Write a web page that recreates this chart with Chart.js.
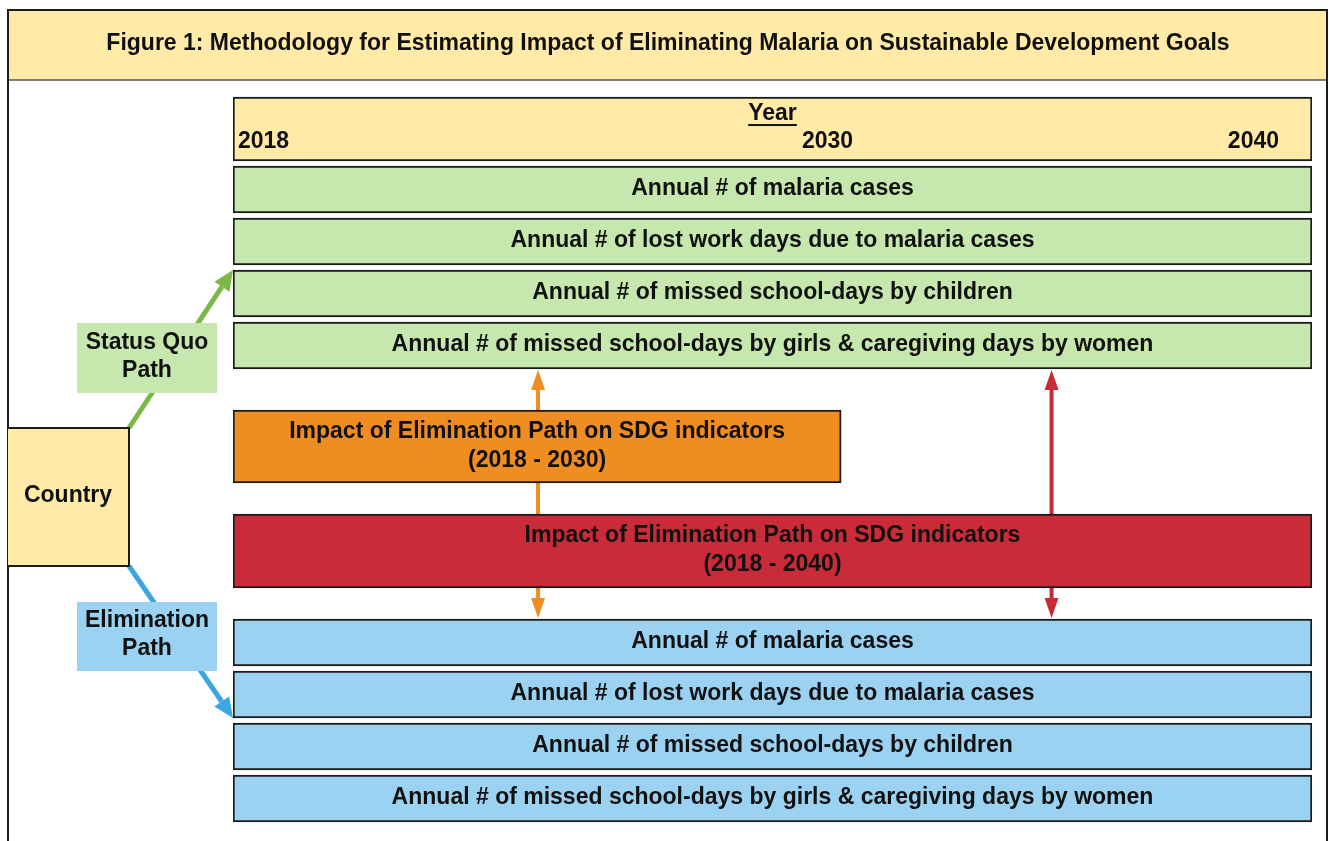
<!DOCTYPE html>
<html><head><meta charset="utf-8">
<script src="https://cdn.jsdelivr.net/npm/chart.js@4.4.0/dist/chart.umd.min.js"></script>
<style>html,body{margin:0;padding:0;background:#fff;overflow:hidden}canvas{display:block}</style>
</head><body>
<canvas id="c" width="1329" height="841"></canvas>
<script>
// ---------- DATA ----------
const TITLE = "Figure 1: Methodology for Estimating Impact of Eliminating Malaria on Sustainable Development Goals";
const AXIS_TITLE = "Year";
const YEAR_TICKS = [2018, 2030, 2040];
const ROW_SPAN = [2018, 2040];
const STATUS_QUO_ROWS = [
  "Annual # of malaria cases",
  "Annual # of lost work days due to malaria cases",
  "Annual # of missed school-days by children",
  "Annual # of missed school-days by girls & caregiving days by women"
];
const ELIMINATION_ROWS = [
  "Annual # of malaria cases",
  "Annual # of lost work days due to malaria cases",
  "Annual # of missed school-days by children",
  "Annual # of missed school-days by girls & caregiving days by women"
];
const IMPACT_LABELS = [
  ["Impact of Elimination Path on SDG indicators", "(2018 - 2030)"],
  ["Impact of Elimination Path on SDG indicators", "(2018 - 2040)"]
];
const IMPACT_SPANS = [[2018, 2030.4], [2018, 2040]];
const ORIGIN_LABEL = "Country";
const PATH_LABELS = [["Status Quo", "Path"], ["Elimination", "Path"]];

// ---------- LAYOUT / STYLE ----------
const PX_PER_ROW = 52;
const L = {
  yMin: -189.5 / PX_PER_ROW,
  yMax: (841 - 189.5) / PX_PER_ROW,
  header: -1.163, greenStart: 0, orange: 4.942, red: 6.952, blueStart: 8.712,
  thickHeader: 64, thickRow: 47, thickOrange: 73, thickRed: 74,
  arrowYears: [2024.22, 2034.69]
};
const C = {
  yellow: '#FFEAA7', green: '#C6E7AD', blue: '#9BD2F2', orange: '#EF8C22', red: '#C92B39',
  border: '#1b1b1b', text: '#111111', greenArrow: '#7BB84A', blueArrow: '#3BA6DF',
  orangeArrow: '#EF8C22', redArrow: '#C92B39'
};
const FONT = 'bold 23px "Liberation Sans", Arial, sans-serif';

function arrowLine(ctx, x1, y1, x2, y2, color, lw, headLen, headHalf) {
  const a = Math.atan2(y2 - y1, x2 - x1);
  const bx = x2 - headLen * Math.cos(a), by = y2 - headLen * Math.sin(a);
  ctx.save();
  ctx.strokeStyle = color; ctx.fillStyle = color; ctx.lineWidth = lw; ctx.lineCap = 'butt';
  ctx.beginPath(); ctx.moveTo(x1, y1); ctx.lineTo(bx, by); ctx.stroke();
  ctx.beginPath();
  ctx.moveTo(x2, y2);
  ctx.lineTo(bx + headHalf * Math.sin(a), by - headHalf * Math.cos(a));
  ctx.lineTo(bx - headHalf * Math.sin(a), by + headHalf * Math.cos(a));
  ctx.closePath(); ctx.fill();
  ctx.restore();
}
function textLines(ctx, lines, cx, cy, gap) {
  const n = lines.length;
  lines.forEach((t, i) => ctx.fillText(t, cx, cy + (i - (n - 1) / 2) * gap));
}

const diagramPlugin = {
  id: 'diagram',
  beforeDatasetsDraw(chart) {
    const ctx = chart.ctx;
    const xs = chart.scales.x, ys = chart.scales.y;
    ctx.save();
    // title bar
    ctx.fillStyle = C.yellow;
    ctx.fillRect(8, 10, 1319, 70);
    ctx.strokeStyle = '#555'; ctx.lineWidth = 1.5;
    ctx.beginPath(); ctx.moveTo(8, 80); ctx.lineTo(1327, 80); ctx.stroke();
    // outer frame
    ctx.strokeStyle = C.border; ctx.lineWidth = 2;
    ctx.beginPath(); ctx.moveTo(8, 845); ctx.lineTo(8, 10); ctx.lineTo(1327, 10); ctx.lineTo(1327, 845); ctx.stroke();
    // title text
    ctx.fillStyle = C.text; ctx.font = FONT; ctx.textAlign = 'center'; ctx.textBaseline = 'middle';
    ctx.fillText(TITLE, 668, 44);

    // geometry of rows
    const rowTop0 = ys.getPixelForValue(L.greenStart + 3) + L.thickRow / 2;      // bottom of last green row
    const blueTop = ys.getPixelForValue(L.blueStart) - L.thickRow / 2;          // top of first blue row
    const gTarget = ys.getPixelForValue(L.greenStart + 2) - L.thickRow / 2;     // top of 3rd green row
    const bTarget = ys.getPixelForValue(L.blueStart + 1) + L.thickRow / 2;      // bottom of 2nd blue row
    const left = xs.getPixelForValue(ROW_SPAN[0]);

    // country box
    const cTop = 428, cBot = 566, cRight = 129;
    arrowLine(ctx, cRight, cTop, left, gTarget, C.greenArrow, 5, 20, 9);
    arrowLine(ctx, cRight, cBot, left, bTarget, C.blueArrow, 5, 20, 9);
    ctx.fillStyle = C.yellow; ctx.fillRect(8, cTop, cRight - 8, cBot - cTop);
    ctx.strokeStyle = C.border; ctx.lineWidth = 2;
    ctx.beginPath(); ctx.moveTo(8, cTop); ctx.lineTo(cRight, cTop); ctx.lineTo(cRight, cBot); ctx.lineTo(8, cBot); ctx.stroke();
    ctx.fillStyle = C.text; ctx.font = FONT;
    ctx.fillText(ORIGIN_LABEL, 68, 496);

    // path boxes
    ctx.fillStyle = C.green; ctx.fillRect(77, 323, 140, 70);
    ctx.fillStyle = C.blue; ctx.fillRect(77, 602, 140, 69);
    ctx.fillStyle = C.text;
    textLines(ctx, PATH_LABELS[0], 147, 357, 28);
    textLines(ctx, PATH_LABELS[1], 147, 635, 28);

    // vertical double arrows
    const cols = [C.orangeArrow, C.redArrow];
    L.arrowYears.forEach((yr, i) => {
      const x = xs.getPixelForValue(yr);
      const mid = (rowTop0 + blueTop) / 2;
      arrowLine(ctx, x, mid, x, rowTop0 + 1, cols[i], 4, 20, 7);
      arrowLine(ctx, x, mid, x, blueTop - 1, cols[i], 4, 20, 7);
    });
    ctx.restore();
  },
  afterDatasetsDraw(chart) {
    const ctx = chart.ctx;
    const xs = chart.scales.x;
    ctx.save();
    ctx.fillStyle = C.text; ctx.font = FONT; ctx.textBaseline = 'middle'; ctx.textAlign = 'center';
    // header
    const hEl = chart.getDatasetMeta(0).data[0];
    const hTop = hEl.y - hEl.height / 2, hBot = hEl.y + hEl.height / 2;
    const hcx = (hEl.x + hEl.base) / 2;
    ctx.fillText(AXIS_TITLE, hcx, hTop + 17);
    const w = ctx.measureText(AXIS_TITLE).width;
    ctx.fillRect(hcx - w / 2, hTop + 27, w, 2);
    const ty = hBot - 19;
    ctx.textAlign = 'left'; ctx.fillText(String(YEAR_TICKS[0]), xs.getPixelForValue(YEAR_TICKS[0]) + 5, ty);
    ctx.textAlign = 'center'; ctx.fillText(String(YEAR_TICKS[1]), xs.getPixelForValue(YEAR_TICKS[1]) + 6, ty);
    ctx.textAlign = 'right'; ctx.fillText(String(YEAR_TICKS[2]), xs.getPixelForValue(YEAR_TICKS[2]) - 33, ty);
    ctx.textAlign = 'center';
    // rows
    [1, 4].forEach(di => {
      const labels = di === 1 ? STATUS_QUO_ROWS : ELIMINATION_ROWS;
      chart.getDatasetMeta(di).data.forEach((el, i) => {
        ctx.fillText(labels[i], (el.x + el.base) / 2, el.y - 1);
      });
    });
    [2, 3].forEach((di, k) => {
      const el = chart.getDatasetMeta(di).data[0];
      textLines(ctx, IMPACT_LABELS[k], (el.x + el.base) / 2, el.y - 0.5, 29);
    });
    ctx.restore();
  }
};

new Chart(document.getElementById('c').getContext('2d'), {
  type: 'bar',
  data: {
    datasets: [
      { label: AXIS_TITLE, data: [{ x: [YEAR_TICKS[0], YEAR_TICKS[2]], y: L.header }],
        backgroundColor: C.yellow, barThickness: L.thickHeader },
      { label: 'Status Quo Path', data: STATUS_QUO_ROWS.map((t, i) => ({ x: ROW_SPAN, y: L.greenStart + i })),
        backgroundColor: C.green, barThickness: L.thickRow },
      { label: IMPACT_LABELS[0][1], data: [{ x: IMPACT_SPANS[0], y: L.orange }],
        backgroundColor: C.orange, barThickness: L.thickOrange },
      { label: IMPACT_LABELS[1][1], data: [{ x: IMPACT_SPANS[1], y: L.red }],
        backgroundColor: C.red, barThickness: L.thickRed },
      { label: 'Elimination Path', data: ELIMINATION_ROWS.map((t, i) => ({ x: ROW_SPAN, y: L.blueStart + i })),
        backgroundColor: C.blue, barThickness: L.thickRow }
    ]
  },
  options: {
    indexAxis: 'y', responsive: false, animation: false, devicePixelRatio: 1,
    layout: { padding: { left: 233, right: 17, top: 0, bottom: 0 } },
    scales: {
      x: { type: 'linear', min: ROW_SPAN[0], max: ROW_SPAN[1], display: false, offset: false },
      y: { type: 'linear', min: L.yMin, max: L.yMax, reverse: true, display: false, offset: false }
    },
    datasets: { bar: { grouped: false, borderSkipped: false, borderWidth: 2, borderColor: C.border } },
    plugins: { legend: { display: false }, tooltip: { enabled: false }, title: { display: false } }
  },
  plugins: [diagramPlugin]
});
</script>
</body></html>
